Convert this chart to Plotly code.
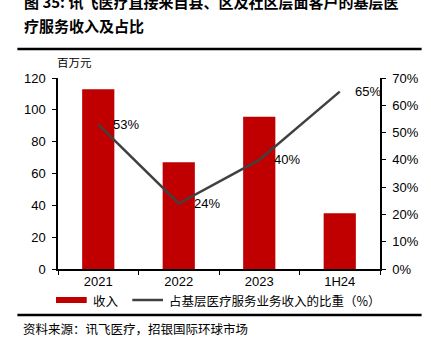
import plotly.graph_objects as go

categories = ["2021", "2022", "2023", "1H24"]
revenue = [113, 67, 95.7, 35]
share = [0.53, 0.24, 0.40, 0.65]
share_labels = ["53%", "24%", "40%", "65%"]

W, H = 431, 353
L, R, T, B = 58, 383, 78, 269

def px(x):
    return (x - L) / (R - L)

def py(y):
    return (B - y) / (B - T)

NUM_FONT = "Liberation Sans, Arial, sans-serif"
CJK_FONT = "Noto Sans CJK SC, sans-serif"
RED = "#C00000"
LINE = "#404040"

fig = go.Figure()
fig.add_trace(go.Bar(x=categories, y=revenue, marker=dict(color=RED, line=dict(width=0)),
                     name="收入", showlegend=False, yaxis="y"))
fig.add_trace(go.Scatter(x=categories, y=share, mode="lines", line=dict(color=LINE, width=2.5),
                         name="占基层医疗服务业务收入的比重（%）", showlegend=False, yaxis="y2"))

annotations = []
for i, (v, t) in enumerate(zip(share, share_labels)):
    annotations.append(dict(x=i, y=v, xref="x", yref="y2", text=t, showarrow=False,
                            xanchor="left", yanchor="middle", xshift=13,
                            font=dict(family=NUM_FONT, size=13, color="#000")))

# title
annotations.append(dict(x=px(22), y=py(1), xref="paper", yref="paper", xanchor="left", yanchor="middle",
                        text="<b>图 35: 讯飞医疗直接来自县、区及社区层面客户的基层医</b>", showarrow=False,
                        font=dict(family=CJK_FONT, size=15, color="#000")))
annotations.append(dict(x=px(22), y=py(25), xref="paper", yref="paper", xanchor="left", yanchor="middle",
                        text="<b>疗服务收入及占比</b>", showarrow=False,
                        font=dict(family=CJK_FONT, size=15, color="#000")))
# unit
annotations.append(dict(x=px(55), y=py(62), xref="paper", yref="paper", xanchor="left", yanchor="middle",
                        text="百万元", showarrow=False,
                        font=dict(family=CJK_FONT, size=11.5, color="#000")))
# legend texts
annotations.append(dict(x=px(91), y=py(300), xref="paper", yref="paper", xanchor="left", yanchor="middle",
                        text="收入", showarrow=False, font=dict(family=CJK_FONT, size=12.5, color="#000")))
annotations.append(dict(x=px(168), y=py(300), xref="paper", yref="paper", xanchor="left", yanchor="middle",
                        text="占基层医疗服务业务收入的比重（%）", showarrow=False,
                        font=dict(family=CJK_FONT, size=12.5, color="#000")))
# source
annotations.append(dict(x=px(21), y=py(328), xref="paper", yref="paper", xanchor="left", yanchor="middle",
                        text="资料来源：讯飞医疗，招银国际环球市场", showarrow=False,
                        font=dict(family=CJK_FONT, size=12.5, color="#000")))

shapes = [
    dict(type="line", xref="paper", yref="paper", x0=px(17), x1=px(425), y0=py(49), y1=py(49),
         line=dict(color="#000", width=2.5)),
    dict(type="line", xref="paper", yref="paper", x0=px(17), x1=px(425), y0=py(315), y1=py(315),
         line=dict(color="#000", width=2.5)),
    dict(type="rect", xref="paper", yref="paper", x0=px(56), x1=px(87), y0=py(303), y1=py(297),
         fillcolor=RED, line=dict(width=0)),
    dict(type="line", xref="paper", yref="paper", x0=px(133), x1=px(164), y0=py(300), y1=py(300),
         line=dict(color=LINE, width=2.5)),
]

fig.update_layout(
    width=W, height=H,
    margin=dict(l=L, r=W - R, t=T, b=H - B, pad=0),
    paper_bgcolor="white", plot_bgcolor="white",
    bargap=0.6,
    showlegend=False,
    annotations=annotations,
    shapes=shapes,
    xaxis=dict(type="category", range=[-0.5, 3.5], autorange=False, showline=True, linecolor="#000",
               linewidth=1.5, ticks="outside", tickson="boundaries", ticklen=4, tickcolor="#000",
               showgrid=False, tickangle=0, tickfont=dict(family=NUM_FONT, size=13, color="#000")),
    yaxis=dict(range=[0, 120], autorange=False, dtick=20, showline=True, linecolor="#000", linewidth=1.5,
               ticks="outside", ticklen=4, tickcolor="#000", showgrid=False, zeroline=False,
               tickfont=dict(family=NUM_FONT, size=13, color="#000"), ticklabelstandoff=4),
    yaxis2=dict(range=[0, 0.7], autorange=False, dtick=0.1, tickformat=".0%", overlaying="y", side="right",
                showline=True, linecolor="#000", linewidth=1.5, ticks="outside", ticklen=4,
                tickcolor="#000", showgrid=False, zeroline=False,
                tickfont=dict(family=NUM_FONT, size=13, color="#000"), ticklabelstandoff=4),
)

fig.write_html("out.html")
